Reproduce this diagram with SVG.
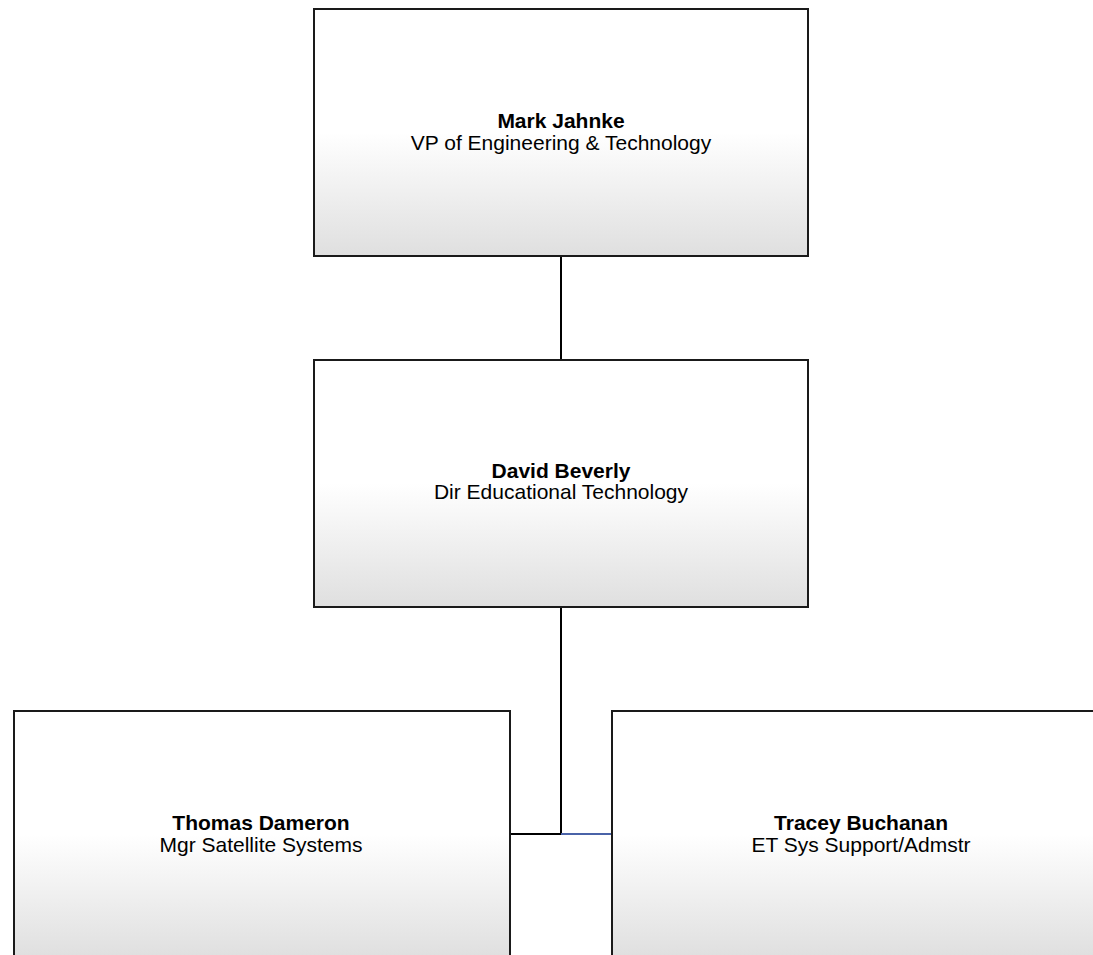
<svg xmlns="http://www.w3.org/2000/svg" width="1093" height="955" viewBox="0 0 1093 955">
  <defs>
    <linearGradient id="boxFill" x1="0" y1="0" x2="0" y2="1">
      <stop offset="0" stop-color="#ffffff"/>
      <stop offset="0.5" stop-color="#ffffff"/>
      <stop offset="1" stop-color="#dfdfdf"/>
    </linearGradient>
  </defs>
  <style>
    .box { fill: url(#boxFill); stroke: #1a1a1a; stroke-width: 2; }
    .name { font-family: "Liberation Sans", Arial, sans-serif; font-size: 21px; font-weight: bold; fill: #000; text-anchor: middle; }
    .title { font-family: "Liberation Sans", Arial, sans-serif; font-size: 21px; fill: #000; text-anchor: middle; }
    .link { fill: none; stroke: #000; stroke-width: 2; }
    .link-blue { fill: none; stroke: #4a63a8; stroke-width: 2; }
  </style>
  <rect width="1093" height="955" fill="#ffffff"/>

  <g id="connectors">
    <line class="link" x1="561" y1="256" x2="561" y2="360"/>
    <line class="link" x1="561" y1="607" x2="561" y2="835"/>
    <line class="link" x1="510" y1="834" x2="561" y2="834"/>
    <line class="link-blue" x1="561" y1="834" x2="612" y2="834"/>
  </g>

  <g id="node-mark-jahnke">
    <rect class="box" x="314" y="9" width="494" height="247"/>
    <text class="name" x="561" y="128">Mark Jahnke</text>
    <text class="title" x="561" y="150">VP of Engineering &amp; Technology</text>
  </g>

  <g id="node-david-beverly">
    <rect class="box" x="314" y="360" width="494" height="247"/>
    <text class="name" x="561" y="478">David Beverly</text>
    <text class="title" x="561" y="499">Dir Educational Technology</text>
  </g>

  <g id="node-thomas-dameron">
    <rect class="box" x="14" y="711" width="496" height="247"/>
    <text class="name" x="261" y="830">Thomas Dameron</text>
    <text class="title" x="261" y="852">Mgr Satellite Systems</text>
  </g>

  <g id="node-tracey-buchanan">
    <rect class="box" x="612" y="711" width="498" height="247"/>
    <text class="name" x="861" y="830">Tracey Buchanan</text>
    <text class="title" x="861" y="852">ET Sys Support/Admstr</text>
  </g>
</svg>
